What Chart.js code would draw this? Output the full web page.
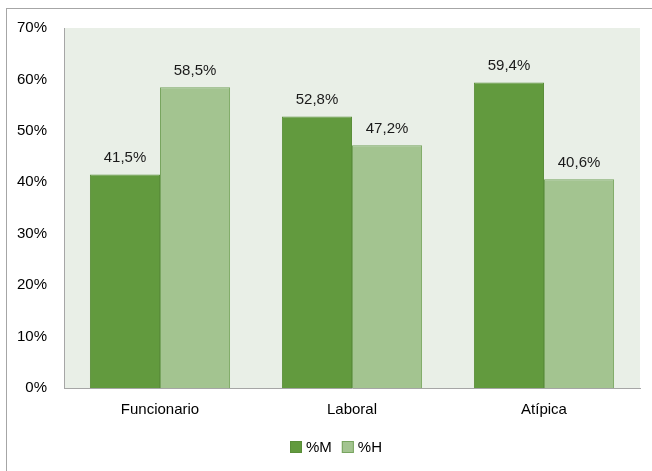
<!DOCTYPE html>
<html><head><meta charset="utf-8">
<script src="https://cdn.jsdelivr.net/npm/chart.js@4/dist/chart.umd.min.js"></script>
<style>html,body{margin:0;padding:0;background:#fff}#wrap{width:652px;height:471px;position:relative}</style>
</head><body><div id="wrap"><canvas id="c" width="652" height="471"></canvas></div>
<script>
const categories = ["Funcionario", "Laboral", "Atípica"];
const seriesM = [41.5, 52.8, 59.4];
const seriesH = [58.5, 47.2, 40.6];
const seriesNames = ["%M", "%H"];
const yTicks = [0, 10, 20, 30, 40, 50, 60, 70];

const FONT = "'Liberation Sans', Arial, sans-serif";

const frame = {
  id: 'frame',
  beforeDraw(chart) {
    const ctx = chart.ctx, a = chart.chartArea;
    ctx.save();
    ctx.fillStyle = '#E9EFE7';
    ctx.fillRect(a.left, a.top, a.right - a.left, a.bottom - a.top);
    ctx.strokeStyle = '#A6A6A6';
    ctx.lineWidth = 1;
    ctx.strokeRect(6.5, 8.5, 800, 600);
    ctx.restore();
  }
};
const labels = {
  id: 'labels',
  afterDatasetsDraw(chart) {
    const ctx = chart.ctx;
    ctx.save();
    ctx.font = '15px ' + FONT;
    ctx.fillStyle = '#1a1a1a';
    ctx.textAlign = 'center';
    ctx.textBaseline = 'bottom';
    chart.data.datasets.forEach((ds, i) => {
      chart.getDatasetMeta(i).data.forEach((bar, j) => {
        ctx.fillText(ds.data[j].toFixed(1).replace('.', ',') + '%', bar.x, bar.y - 9);
      });
    });
    ctx.restore();
  }
};
const legendBox = {
  id: 'legendBox',
  afterDraw(chart) {
    const ctx = chart.ctx, a = chart.chartArea;
    ctx.save();
    ctx.font = '15px ' + FONT;
    ctx.textBaseline = 'middle';
    ctx.textAlign = 'left';
    const box = 12, gapText = 4, gapItem = 10, cy = 447;
    const items = chart.data.datasets.map(ds => ({ ds, w: box + gapText + ctx.measureText(ds.label).width }));
    const total = items.reduce((s, it) => s + it.w, 0) + gapItem * (items.length - 1);
    let x = Math.round((a.left + a.right) / 2 - 16 - total / 2);
    items.forEach(it => {
      ctx.fillStyle = it.ds.backgroundColor;
      ctx.fillRect(x, cy - box / 2, box, box);
      ctx.strokeStyle = it.ds.borderColor;
      ctx.lineWidth = 1;
      ctx.strokeRect(x + 0.5, cy - box / 2 + 0.5, box - 1, box - 1);
      ctx.fillStyle = '#000';
      ctx.fillText(it.ds.label, x + box + gapText, cy + 1);
      x += it.w + gapItem;
    });
    ctx.restore();
  }
};

new Chart(document.getElementById('c'), {
  type: 'bar',
  data: {
    labels: categories,
    datasets: [
      { label: seriesNames[0], data: seriesM, backgroundColor: '#629A3E', borderColor: '#5A8E39', borderWidth: 1 },
      { label: seriesNames[1], data: seriesH, backgroundColor: '#A3C490', borderColor: '#78A55F', borderWidth: 1 }
    ]
  },
  options: {
    responsive: false,
    animation: false,
    devicePixelRatio: 1,
    layout: { padding: { top: 28, right: 12, left: 0, bottom: 0 } },
    datasets: { bar: { categoryPercentage: 0.73, barPercentage: 1 } },
    scales: {
      y: {
        min: 0, max: 70,
        afterFit(s) { s.width = 64; },
        afterBuildTicks(s) { s.ticks = yTicks.map(v => ({ value: v })); },
        ticks: { padding: 17, color: '#000', font: { family: FONT, size: 15 }, callback: v => v + '%' },
        grid: { display: false, drawTicks: false },
        border: { display: true, color: '#A6A6A6', width: 1 }
      },
      x: {
        afterFit(s) { s.height = 83; },
        ticks: { padding: 13, color: '#000', font: { family: FONT, size: 15 } },
        grid: { display: false, drawTicks: false },
        border: { display: true, color: '#A6A6A6', width: 1 }
      }
    },
    plugins: {
      legend: { display: false },
      tooltip: { enabled: false }
    }
  },
  plugins: [frame, labels, legendBox]
});
</script></body></html>
